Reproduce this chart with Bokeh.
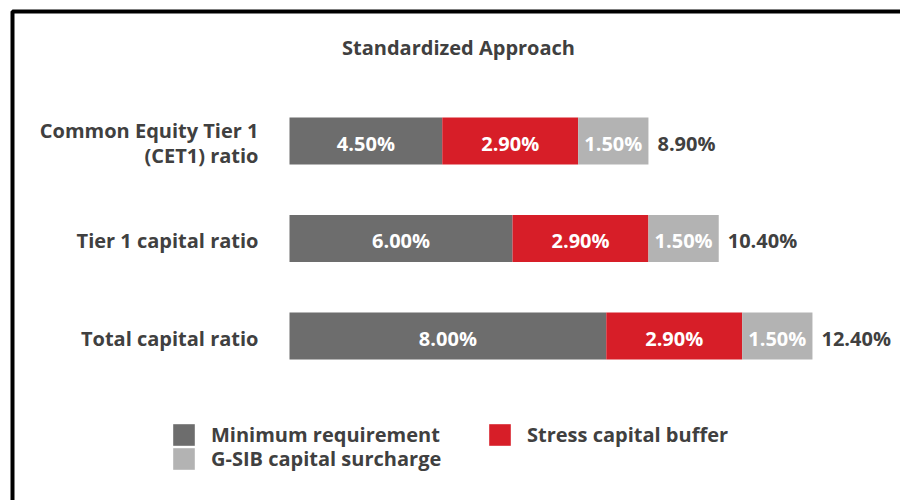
import numpy as np
from bokeh.plotting import figure
from bokeh.models import ColumnDataSource, Range1d, Legend, LegendItem, BoxAnnotation, Label
from bokeh.core.properties import value
from bokeh.embed import file_html
from bokeh.resources import INLINE

# ---- data ----
categories = ["Common Equity Tier 1\n(CET1) ratio", "Tier 1 capital ratio", "Total capital ratio"]
minimum_requirement = [4.50, 6.00, 8.00]
stress_capital_buffer = [2.90, 2.90, 2.90]
gsib_surcharge = [1.50, 1.50, 1.50]
series_names = ["Minimum requirement", "Stress capital buffer", "G-SIB capital surcharge"]
title_text = "Standardized Approach"

# visible value window: bars begin at the axis start, as in the reference
AXIS_START = 1.24

FONT = "Open Sans"
DARK = "#404040"
colors = ["#6d6d6d", "#d71e28", "#b3b3b3"]
FS = "20px"

W, H = 900, 500
PX_PER_UNIT = 46.86
BAR_LEFT_PX = 289
x_lo = AXIS_START - BAR_LEFT_PX / PX_PER_UNIT
x_hi = AXIS_START + (W - BAR_LEFT_PX) / PX_PER_UNIT

# category rows (top to bottom) -> numeric positions
ypos = list(range(len(categories) - 1, -1, -1))
ROW_PX = 97.5
y_hi = ypos[0] + 140.5 / ROW_PX
y_lo = ypos[-1] - (H - 335.5) / ROW_PX

p = figure(width=W, height=H, output_backend="svg", toolbar_location=None,
           x_range=Range1d(x_lo, x_hi), y_range=Range1d(y_lo, y_hi),
           x_axis_location=None, y_axis_location=None,
           min_border=0)
p.background_fill_color = "white"
p.border_fill_color = "white"
p.outline_line_color = None
p.grid.visible = False

vals = np.array([minimum_requirement, stress_capital_buffer, gsib_surcharge])
rights = vals.cumsum(axis=0)
lefts = np.maximum(rights - vals, AXIS_START)
mids = (lefts + rights) / 2

for i in range(len(series_names)):
    src = ColumnDataSource(dict(y=ypos, left=lefts[i].tolist(), right=rights[i].tolist()))
    p.hbar(y="y", left="left", right="right", height=0.483, source=src,
           fill_color=colors[i], line_color=None)

rends = p.renderers[:]

# category labels
cat_src = ColumnDataSource(dict(x=[AXIS_START] * len(categories), y=ypos, label=categories))
p.text(x="x", y="y", text="label", source=cat_src, text_align="right", text_baseline="middle",
       x_offset=-31, y_offset=2, text_line_height=0.89,
       text_color=DARK, text_font=value(FONT), text_font_style="bold", text_font_size=FS)

# segment labels
seg = ColumnDataSource(dict(
    x=mids.flatten().tolist(),
    y=ypos * 3,
    label=[f"{v:.2f}%" for v in vals.flatten()],
))
p.text(x="x", y="y", text="label", source=seg, text_align="center", text_baseline="middle",
       y_offset=2, text_color="white", text_font=value(FONT), text_font_style="bold", text_font_size=FS)

# totals
totals = rights[-1]
tot = ColumnDataSource(dict(x=totals.tolist(), y=ypos, label=[f"{t:.2f}%" for t in totals]))
p.text(x="x", y="y", text="label", source=tot, text_align="left", text_baseline="middle",
       x_offset=9, y_offset=2, text_color=DARK, text_font=value(FONT), text_font_style="bold",
       text_font_size=FS)

# title
p.add_layout(Label(x=458, y=47, x_units="canvas", y_units="canvas", text=title_text,
                   text_align="center", text_baseline="middle", text_color=DARK,
                   text_font=FONT, text_font_style="bold", text_font_size=FS))

def make_legend(items, loc):
    return Legend(items=items, location=loc, glyph_width=27, glyph_height=27, label_standoff=14,
                  spacing=0, padding=0, margin=0, border_line_color=None, background_fill_alpha=0,
                  label_text_font=FONT, label_text_font_style="bold", label_text_font_size=FS,
                  label_text_color=DARK, label_height=22)

legend_locs = [(170, 52), (486, 52), (170, 28)]
for i, loc in enumerate(legend_locs):
    p.add_layout(make_legend([LegendItem(label=series_names[i], renderers=[rends[i]])], loc))

border = BoxAnnotation(left=12, right=3000, top=11, bottom=3000,
                       left_units="canvas", right_units="canvas", top_units="canvas", bottom_units="canvas",
                       fill_alpha=0, line_color="black", line_alpha=1.0, line_width=4)
p.add_layout(border)

open("out.html", "w").write(file_html(p, INLINE))
